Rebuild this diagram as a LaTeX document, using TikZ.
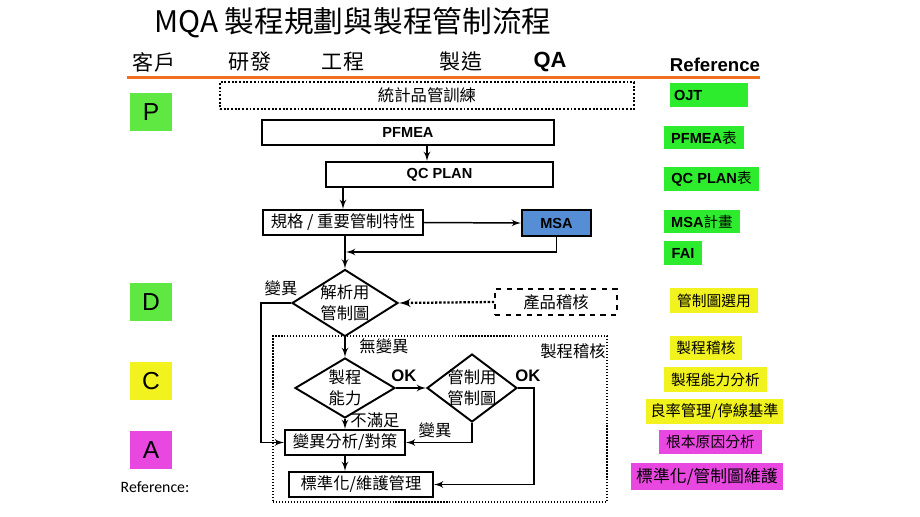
\documentclass[tikz,border=0pt]{standalone}
\usepackage{fontspec}
\setmainfont{Liberation Sans}
\newfontfamily\cjk{Noto Sans CJK TC}
\newfontfamily\calib{Carlito}
\usepackage{xcolor}
\usetikzlibrary{shapes,arrows}
\definecolor{orangeline}{RGB}{240,112,32}
\definecolor{pdgreen}{RGB}{95,232,65}
\definecolor{refgreen}{RGB}{45,236,45}
\definecolor{refyellow}{RGB}{242,242,30}
\definecolor{refmagenta}{RGB}{232,72,224}
\definecolor{msablue}{RGB}{85,142,213}
\tikzstyle{line} = [draw, line width=0.85pt, -latex']
\tikzstyle{box} = [draw, line width=1.1pt, rectangle, inner sep=0pt, font=\cjk\fontsize{9.3}{11}\selectfont]
\tikzstyle{latinbox} = [box, font=\bfseries\fontsize{8.3}{10}\selectfont]
\tikzstyle{decision} = [draw, line width=1.1pt, diamond, inner sep=0pt, align=center, font=\cjk\fontsize{9.3}{12}\selectfont]
\tikzstyle{tag} = [inner sep=0pt, font=\cjk\fontsize{9.3}{11}\selectfont]
\tikzstyle{oktag} = [inner sep=0pt, font=\bfseries\fontsize{9.5}{11}\selectfont]
\tikzstyle{pdca} = [inner sep=0pt, minimum width=0.84cm, minimum height=0.76cm, font=\fontsize{14}{16}\selectfont]
\tikzstyle{refbox} = [inner sep=0pt, font=\bfseries\fontsize{8.3}{10}\selectfont]
\tikzstyle{refcjk} = [inner sep=0pt, font=\cjk\fontsize{8.4}{10}\selectfont]
\newcommand{\zc}[1]{\makebox[0pt]{#1}}
\begin{document}
\begin{tikzpicture}[x=0.02cm,y=-0.02cm]
		\useasboundingbox (0,0) rectangle (920,517);
		%\draw[help lines,step=50,dashed] (0,0) grid (920,517); %grid for coordinates
		
		\node (title) [anchor=west,inner sep=0pt,font=\cjk\fontsize{16.9}{19}\selectfont] at (154,23) {MQA 製程規劃與製程管制流程}; % title
		
		\node (client) [tag,font=\cjk\fontsize{12}{14}\selectfont] at (154,62) {客戶}; % header row
		\node (rd) [tag,font=\cjk\fontsize{12}{14}\selectfont] at (250,62) {研發};
		\node (eng) [tag,font=\cjk\fontsize{12}{14}\selectfont] at (343,62) {工程};
		\node (mfg) [tag,font=\cjk\fontsize{12}{14}\selectfont] at (461,62) {製造};
		\node (qa) [oktag,font=\bfseries\fontsize{12.5}{14}\selectfont] at (550,62) {QA};
		\node (refhead) [oktag,font=\bfseries\fontsize{10.6}{12}\selectfont] at (715,65) {Reference};
		\draw[orangeline,line width=2pt] (127,77.5) -- (760,77.5); % orange rule
		
		% PDCA column
		\node (P) [pdca,fill=pdgreen] at (151,112) {P};
		\node (D) [pdca,fill=pdgreen] at (151,302) {D};
		\node (C) [pdca,fill=refyellow] at (151,381) {C};
		\node (A) [pdca,fill=refmagenta] at (151,450) {A};
		\node (refnote) [inner sep=0pt,font=\calib\fontsize{9}{11}\selectfont] at (155,487) {Reference:};
		
		% flow chart
		\node (train) [box,densely dotted,line width=1.3pt,minimum width=8.28cm,minimum height=0.54cm] at (427,95.5) {統計品管訓練};
		\node (pfmea) [latinbox,minimum width=5.84cm,minimum height=0.5cm] at (408,132.5) {PFMEA};
		\node (qcplan) [latinbox,minimum width=4.54cm,minimum height=0.5cm] at (439.5,174.5) {QC PLAN};
		\node (spec) [box,minimum width=3.2cm,minimum height=0.5cm] at (343,222.5) {規格 / 重要管制特性};
		\node (msa) [latinbox,fill=msablue,minimum width=1.38cm,minimum height=0.52cm] at (556.5,223) {MSA};
		\node (anachart) [decision,minimum width=2.12cm,minimum height=1.34cm] at (345,303) {\zc{解析用}\\\zc{管制圖}};
		\node (ptaudit) [box,dashed,minimum width=2.44cm,minimum height=0.52cm] at (556,302) {產品稽核};
		\node (procaudit) [draw,densely dotted,line width=0.7pt,minimum width=6.68cm,minimum height=3.32cm,inner sep=0pt] at (440,419) {};
		\node (audittag) [tag] at (573,351) {製程稽核};
		\node (capab) [decision,minimum width=2cm,minimum height=1.2cm] at (345,388) {\zc{製程}\\\zc{能力}};
		\node (ctrlchart) [decision,minimum width=1.8cm,minimum height=1.36cm] at (472,388) {\zc{管制用}\\\zc{管制圖}};
		\node (var) [box,minimum width=2.4cm,minimum height=0.5cm] at (345,442.5) {變異分析/對策};
		\node (std) [box,minimum width=2.88cm,minimum height=0.5cm] at (361,484.5) {標準化/維護管理};
		\coordinate (join) at (346,252); % MSA joins here
		
		\path[line] (pfmea.south -| train.south) -- (qcplan.north -| train.south);
		\path[line] (qcplan.south -| spec.north) -- (spec.north);
		\path[line] (spec.east) -- (msa.west);
		\path[line] (msa.south) |- (join);
		\path[line] (spec.south -| anachart.north) -- (anachart.north);
		\path[line] (anachart.west) -- ++(-30,0) |- (var.west);
		\path[draw,densely dotted,line width=1.3pt,-latex'] (ptaudit.west) -- (anachart.east);
		\path[line] (anachart.south) -- (capab.north);
		\path[line] (capab.east) -- (ctrlchart.west);
		\path[line] (capab.south) -- (var.north);
		\path[line] (ctrlchart.south) |- (var.east);
		\path[line] (ctrlchart.east) -- ++(16,0) |- (std.east);
		\path[line] (var.south) -- (var.south |- std.north);
		
		\node (vartag) [tag] at (281,288) {變異}; % labels on connectors
		\node (novartag) [tag] at (384,346) {無變異};
		\node (ok1) [oktag] at (404,376) {OK};
		\node (ok2) [oktag] at (528,376) {OK};
		\node (failtag) [tag] at (375,420) {不滿足};
		\node (vartag2) [tag] at (435,430) {變異};
		
		% reference column
		\node (ojt) [refbox,fill=refgreen,minimum width=1.56cm,minimum height=0.48cm,text width=1.4cm,align=left] at (709,95) {OJT};
		\node (pfmeat) [refbox,fill=refgreen,minimum width=1.6cm,minimum height=0.46cm] at (704,137.5) {PFMEA{\cjk\mdseries 表}};
		\node (qct) [refbox,fill=refgreen,minimum width=1.9cm,minimum height=0.48cm] at (711.5,179) {QC PLAN{\cjk\mdseries 表}};
		\node (msat) [refbox,fill=refgreen,minimum width=1.52cm,minimum height=0.46cm] at (702,221.5) {MSA{\cjk\mdseries 計畫}};
		\node (fai) [refbox,fill=refgreen,minimum width=0.76cm,minimum height=0.48cm] at (683,253) {FAI};
		\node (chartsel) [refcjk,fill=refyellow,minimum width=1.76cm,minimum height=0.5cm] at (714,300.5) {管制圖選用};
		\node (auditref) [refcjk,fill=refyellow,minimum width=1.44cm,minimum height=0.48cm] at (706,348) {製程稽核};
		\node (capref) [refcjk,fill=refyellow,minimum width=2.06cm,minimum height=0.5cm] at (715.5,379.5) {製程能力分析};
		\node (yieldref) [refcjk,fill=refyellow,minimum width=2.74cm,minimum height=0.5cm,font=\cjk\fontsize{8.7}{10}\selectfont] at (714.5,411.5) {良率管理/停線基準};
		\node (rootref) [refcjk,fill=refmagenta,minimum width=2.06cm,minimum height=0.48cm] at (710.5,442) {根本原因分析};
		\node (stdref) [refcjk,fill=refmagenta,minimum width=3.04cm,minimum height=0.54cm,font=\cjk\fontsize{9.6}{11}\selectfont] at (707,476.5) {標準化/管制圖維護};
		
\end{tikzpicture}
\end{document}
